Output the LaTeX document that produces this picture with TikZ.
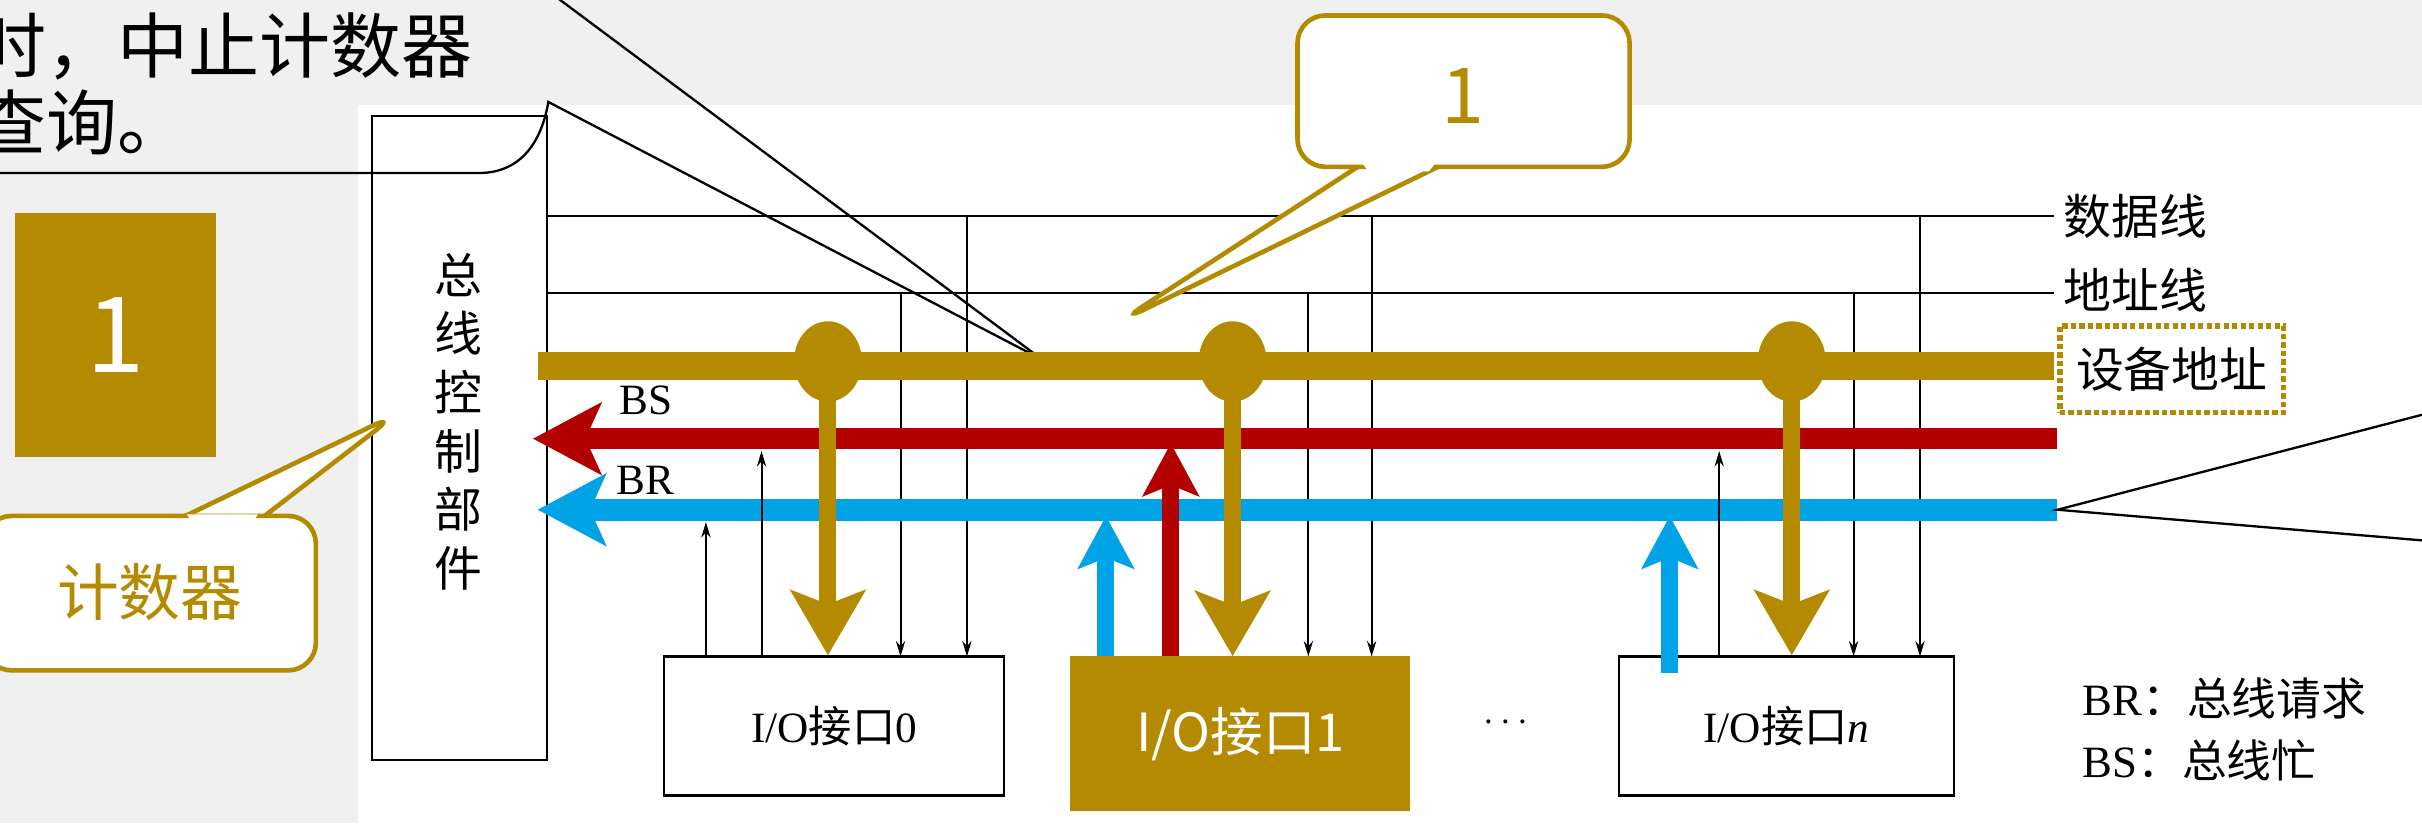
\documentclass[tikz,border=0pt]{standalone}
\usepackage{fontspec}
\setmainfont{Liberation Serif}
\newfontfamily\cjk{Noto Sans CJK SC}
\newfontfamily\cjkb{Noto Sans CJK SC Medium}
\usetikzlibrary{arrows.meta}
\definecolor{gold}{HTML}{B38A00}
\definecolor{bsred}{HTML}{B30000}
\definecolor{brblue}{HTML}{00A3E6}
\definecolor{bggray}{HTML}{F0F0F0}
\newcommand{\fs}[1]{\fontsize{#1}{#1}\selectfont}
\begin{document}
\begin{tikzpicture}[x=1pt,y=-1pt,
  thin line/.style={black,line width=1.3pt},
  dn/.style={thin line,-{Stealth[length=10pt,width=6pt]}},
  goldarr/.style={gold,line width=11pt,-{Stealth[length=42pt,width=48pt,inset=9pt]}},
  fatup/.style={line width=11pt,-{Stealth[length=34pt,width=36pt,inset=7pt]}},
  box/.style={draw=black,line width=1.5pt,fill=white,inner sep=0pt},
  lab/.style={inner sep=0pt,font=\fs{28}},
  bubble/.style={draw=gold,line width=3pt,rounded corners=18pt,fill=white},
  callout/.style={black,line width=1.5pt}]
\useasboundingbox (0,0) rectangle (1568,533);
\fill[bggray] (0,0) rectangle (1568,533);
\fill[white] (232,68) rectangle (1568,533);
% top-left text
\node[anchor=west,inner sep=0pt,font=\cjk\fs{46}] (t1) at (-16,30) {时，中止计数器};
\node[anchor=west,inner sep=0pt,font=\cjk\fs{46}] (t2) at (-16,79) {查询。};
% control unit
\node[box,minimum width=113pt,minimum height=417pt] (ctl) at (297.5,283.5) {};
\node[inner sep=0pt,font=\cjk\fs{31},align=center] (ctltxt) at (297,273) {总\\[7pt]线\\[7pt]控\\[7pt]制\\[7pt]部\\[7pt]件};
% callout lines top-left
\coordinate (ctip) at (675,233);
\coordinate (c0) at (360,-2);
\coordinate (c1) at (355,66);
\coordinate (c2) at (-2,112);
\draw[callout] (c0) -- (ctip) -- (c1) .. controls (350,95) and (335,112) .. (310,112) -- (c2);
% bus lines
\coordinate (dL) at (354,140); \coordinate (dR) at (1330,140);
\coordinate (aL) at (354,190); \coordinate (aR) at (1330,190);
\draw[thin line] (dL) -- (dR);
\draw[thin line] (aL) -- (aR);
\node[lab,anchor=west,font=\cjk\fs{31}] (dlab) at (1336,140) {数据线};
\node[lab,anchor=west,font=\cjk\fs{31}] (alab) at (1336,188) {地址线};
% interfaces
\node[box,minimum width=220pt,minimum height=90pt,font=\cjk\fs{28}] (io0) at (540,470) {\rmfamily I/O\cjk 接口\rmfamily 0};
\node[draw=none,fill=gold,minimum width=220pt,minimum height=100pt,inner sep=0pt,text=white,font=\cjk\fs{34}] (io1) at (803,475) {I/O接口1};
\node[box,minimum width=217pt,minimum height=90pt,font=\cjk\fs{28}] (ion) at (1156.5,470) {\rmfamily I/O\cjk 接口\rmfamily\itshape n};
\node[inner sep=0pt,font=\fs{30}] (dots) at (975,468) {$\cdots$};
% thin down arrows
\foreach \x/\y in {583/190,626/140,847/190,888/140,1200/190,1243/140}
  \draw[dn] (\x,\y) -- (\x,425);
% device address bus
\coordinate (gL) at (348,237); \coordinate (gR) at (1330,237);
\draw[gold,line width=18pt] (gL) -- (gR);
\node[draw=gold,dotted,line width=3.5pt,minimum width=145pt,minimum height=56pt,inner sep=0pt,font=\cjk\fs{31}] (dev) at (1406,239) {设备地址};
% BS and BR buses
\coordinate (bsL) at (345,284); \coordinate (bsR) at (1332,284);
\coordinate (brL) at (348,330); \coordinate (brR) at (1332,330);
\draw[bsred,line width=14pt,-{Stealth[length=44pt,width=46pt,inset=10pt]}] (bsR) -- (bsL);
\draw[brblue,line width=14pt,-{Stealth[length=44pt,width=46pt,inset=10pt]}] (brR) -- (brL);
\node[lab] (bslab) at (418,259) {BS};
\node[lab] (brlab) at (418,311) {BR};
% thin up arrows
\draw[dn] (457,425) -- (457,338);
\draw[dn] (493,425) -- (493,292);
\draw[dn] (1113,425) -- (1113,292);
% gold taps
\foreach \x in {536,798,1160}{
  \fill[gold] (\x,234) ellipse (22pt and 26pt);
}
\draw[goldarr] (536,240) -- (io0.north -| 536,425);
\draw[goldarr] (798,240) -- (io1.north -| 798,425);
\draw[goldarr] (1160,240) -- (ion.north -| 1160,425);
% fat up arrows
\draw[fatup,brblue] (io1.north -| 716,425) -- (716,334);
\draw[fatup,bsred] (io1.north -| 758,425) -- (758,287);
\draw[fatup,brblue] (1081,436) -- (1081,334);
% callout "1"
\coordinate (b1tip) at (725,208);
\draw[bubble] (879,108) -- (b1tip) -- (931,108);
\node[bubble,minimum width=215pt,minimum height=98pt] (b1) at (947.5,59) {};
\node[inner sep=0pt,text=gold,font=\cjk\fs{50}] (b1t) at (947,62) {1};
\fill[white] (882,106) -- (929,106) -- (925,111) -- (886,111) -- cycle;
% callout 计数器
\coordinate (b2tip) at (257,268);
\draw[bubble] (118,335) -- (b2tip) -- (170,335);
\node[bubble,minimum width=215pt,minimum height=100pt] (b2) at (97,384) {};
\fill[white] (121,333) -- (167,333) -- (163,339) -- (125,339) -- cycle;
\node[inner sep=0pt,text=gold,font=\cjk\fs{40}] (b2t) at (97,383) {计数器};
% gold square
\node[fill=gold,minimum width=130pt,minimum height=158pt,inner sep=0pt,text=white,font=\cjk\fs{68}] (sq) at (75,217) {1};
% right callout
\coordinate (r1) at (1570,268); \coordinate (r2) at (1570,350);
\draw[callout] (r1) -- (brR) -- (r2);
% legend
\node[lab,anchor=west,font=\fs{29}] (l1) at (1348,452) {BR\cjk：总线请求};
\node[lab,anchor=west,font=\fs{29}] (l2) at (1348,492) {BS\cjk：总线忙};
\end{tikzpicture}
\end{document}
